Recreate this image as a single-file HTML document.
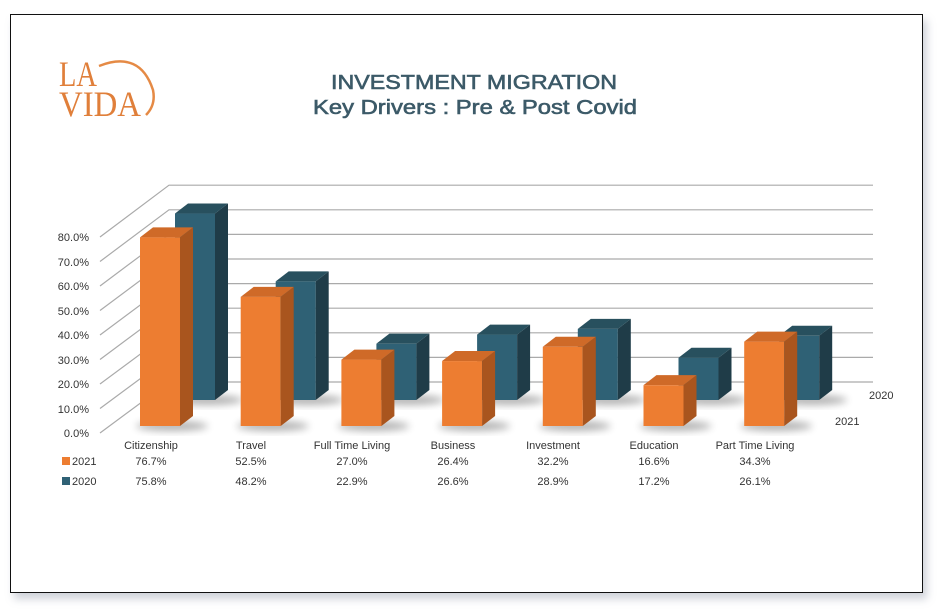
<!DOCTYPE html>
<html><head><meta charset="utf-8"><style>
html,body{margin:0;padding:0;background:#fff;}
body{width:939px;height:609px;position:relative;overflow:hidden;font-family:"Liberation Sans",sans-serif;}
#frame{position:absolute;left:10px;top:14px;width:911px;height:577px;border:1.5px solid #111;box-shadow:4px 6px 8px rgba(120,130,150,0.35);background:#fff;}
svg{position:absolute;left:0;top:0;}
</style></head><body>
<div id="frame"></div>
<svg width="939" height="609" id="s">
<defs><filter id="bl" x="-50%" y="-50%" width="200%" height="200%"><feGaussianBlur stdDeviation="4"/></filter></defs>
<g font-family="Liberation Serif,serif" fill="#E07F3A" font-size="36">
<text x="59" y="86" textLength="38" lengthAdjust="spacingAndGlyphs">LA</text>
<text x="59" y="116" textLength="82" lengthAdjust="spacingAndGlyphs">VIDA</text>
</g>
<path d="M99 66 Q140 50 153 90 Q156 105 146 115" fill="none" stroke="#E58A45" stroke-width="2.5"/>
<g fill="#3C5A68" stroke="#3C5A68" stroke-width="0.6" font-family="Liberation Sans,sans-serif">
<text x="331" y="89" font-size="20" textLength="286" lengthAdjust="spacingAndGlyphs">INVESTMENT  MIGRATION</text>
<text x="313" y="114" font-size="20" textLength="324" lengthAdjust="spacingAndGlyphs">Key Drivers : Pre &amp; Post Covid</text>
</g>
<g id="grid" stroke="#aaa" stroke-width="1.2" fill="none"></g>
<g id="bars"></g>
<g font-size="11" fill="#333" font-family="Liberation Sans,sans-serif">
<g text-anchor="end">
<text x="89" y="437">0.0%</text><text x="89" y="413">10.0%</text><text x="89" y="388">20.0%</text><text x="89" y="364">30.0%</text><text x="89" y="339">40.0%</text><text x="89" y="315">50.0%</text><text x="89" y="290">60.0%</text><text x="89" y="266">70.0%</text><text x="89" y="241">80.0%</text>
</g>
<text x="869" y="399">2020</text><text x="835" y="425">2021</text>
<g text-anchor="middle">
<text x="151" y="449">Citizenship</text><text x="251" y="449">Travel</text><text x="352" y="449">Full Time Living</text><text x="453" y="449">Business</text><text x="553" y="449">Investment</text><text x="654" y="449">Education</text><text x="755" y="449">Part Time Living</text>
<text x="151" y="465">76.7%</text><text x="251" y="465">52.5%</text><text x="352" y="465">27.0%</text><text x="453" y="465">26.4%</text><text x="553" y="465">32.2%</text><text x="654" y="465">16.6%</text><text x="755" y="465">34.3%</text>
<text x="151" y="485">75.8%</text><text x="251" y="485">48.2%</text><text x="352" y="485">22.9%</text><text x="453" y="485">26.6%</text><text x="553" y="485">28.9%</text><text x="654" y="485">17.2%</text><text x="755" y="485">26.1%</text>
</g>
<rect x="62" y="457" width="8" height="8" fill="#ED7D31"/><text x="72" y="465">2021</text>
<rect x="62" y="477" width="8" height="8" fill="#2F6175"/><text x="72" y="485">2020</text>
</g>
</svg>
<script>
var ns="http://www.w3.org/2000/svg",g=document.getElementById('grid'),b=document.getElementById('bars');
function el(p,t,a){var e=document.createElementNS(ns,t);for(var k in a)e.setAttribute(k,a[k]);p.appendChild(e);return e;}
for(var i=0;i<=8;i++){var fy=433-i*24.5,by=382-i*24.6;
el(g,'polyline',{points:"100,"+fy+" 169,"+by+" 873,"+by});}
var o=[76.7,52.5,27.0,26.4,32.2,16.6,34.3],bl=[75.8,48.2,22.9,26.6,28.9,17.2,26.1];
function bar(x,bot,v,c1,c2,c3){var t=bot-2.46*v,w=40,dx=13,dy=-10;
el(b,'ellipse',{cx:x+w/2+12,cy:bot,rx:36,ry:5,fill:'#000',opacity:0.3,filter:'url(#bl)'});
el(b,'rect',{x:x,y:t,width:w,height:bot-t,fill:c1});
el(b,'polygon',{points:(x+w)+","+t+" "+(x+w+dx)+","+(t+dy)+" "+(x+w+dx)+","+(bot+dy)+" "+(x+w)+","+bot,fill:c2});
el(b,'polygon',{points:x+","+t+" "+(x+dx)+","+(t+dy)+" "+(x+w+dx)+","+(t+dy)+" "+(x+w)+","+t,fill:c3});}
for(var i=0;i<7;i++)bar(175+i*100.7,400,bl[i],'#2F6175','#1F3C48','#28505E');
for(var i=0;i<7;i++)bar(140+i*100.7,426,o[i],'#ED7D31','#A9551E','#CF6A28');
</script>
</body></html>
